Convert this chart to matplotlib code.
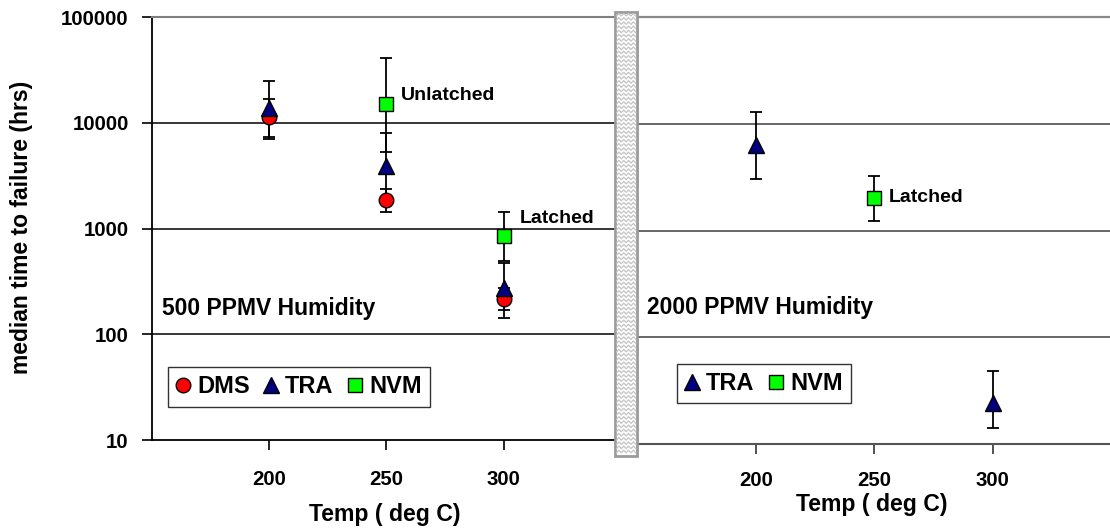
import numpy as np
import matplotlib
matplotlib.use("Agg")
import matplotlib.pyplot as plt
from matplotlib.patches import Rectangle

plt.rcParams['font.family'] = ['Liberation Sans', 'DejaVu Sans']
plt.rcParams['font.weight'] = 'bold'

# ---------------- data ----------------
x_ticks = [200, 250, 300]
y_ticks = [10, 100, 1000, 10000, 100000]
y_ticklabels = ['10', '100', '1000', '10000', '100000']

# 500 PPMV humidity
dms_x = [200, 250, 300]
dms_y = [11500, 1870, 216]
dms_lo = [7400, 1430, 170]
dms_hi = [17000, 2380, 274]

tra500_x = [200, 250, 300]
tra500_y = [13800, 3900, 275]
tra500_lo = [7060, 1900, 144]
tra500_hi = [25100, 8000, 471]

nvm500_x = [250, 300]
nvm500_y = [15100, 853]
nvm500_lo = [5350, 494]
nvm500_hi = [40900, 1450]

# 2000 PPMV humidity
tra2000_x = [200, 300]
tra2000_y = [6270, 24.5]
tra2000_lo = [3060, 14.1]
tra2000_hi = [12860, 49]

nvm2000_x = [250]
nvm2000_y = [2030]
nvm2000_lo = [1240]
nvm2000_hi = [3210]

W, H = 1110, 529
fig = plt.figure(figsize=(W / 100, H / 100), dpi=100)


def fx(px):
    return px / W


def fy(py):
    return 1 - py / H


# left axes
L0, L1, LT, LB = 151.7, 615.0, 17.3, 440.0
axL = fig.add_axes([fx(L0), fy(LB), fx(L1 - L0), (LB - LT) / H])
axL.set_xlim(150, 150 + (L1 - L0) / 2.346)
# right axes
R0, R1, RT, RB = 637.3, 1110.0, 16.7, 444.3
axR = fig.add_axes([fx(R0), fy(RB), fx(R1 - R0), (RB - RT) / H])
axR.set_xlim(150, 150 + (R1 - R0) / 2.37)

for ax in (axL, axR):
    ax.set_yscale('log')
    ax.set_ylim(10, 100000)
    ax.set_xticks(x_ticks)
    ax.set_xticklabels([str(t) for t in x_ticks], fontsize=14.7, fontweight='bold')
    ax.minorticks_off()
    ax.spines['right'].set_visible(False)
    ax.tick_params(axis='x', direction='out', length=7.5, width=1.2)

axL.set_yticks(y_ticks)
axL.set_yticklabels(y_ticklabels, fontsize=14.7, fontweight='bold')
axL.tick_params(axis='y', direction='out', length=7.5, width=1.2, pad=9)
axL.tick_params(axis='x', pad=14)
axL.spines['left'].set_color('black')
axL.spines['left'].set_linewidth(1.3)
axL.spines['bottom'].set_color('black')
axL.spines['bottom'].set_linewidth(1.3)
axL.spines['top'].set_color('#808080')
axL.spines['top'].set_linewidth(1.5)
for v in [100, 1000, 10000]:
    axL.axhline(v, color='black', lw=1.1, zorder=0)

axR.set_yticks([])
axR.spines['left'].set_visible(False)
axR.spines['top'].set_color('#8a8a8a')
axR.spines['top'].set_linewidth(1.6)
axR.spines['bottom'].set_color('#555555')
axR.spines['bottom'].set_linewidth(1.5)
axR.tick_params(axis='x', pad=12, color='#333333')
for v in [100, 1000, 10000]:
    axR.axhline(v, color='#666666', lw=1.4, zorder=0)

ms_c, ms_t, ms_s = 10.5, 11.5, 10
cap = 4.2
ekw = dict(ecolor='black', elinewidth=1.3, capsize=cap, capthick=1.3, linestyle='none')


def draw(ax, xs, ys, lo, hi, marker, color, ms, label):
    ys = np.array(ys, float)
    yerr = np.vstack([ys - np.array(lo, float), np.array(hi, float) - ys])
    ax.errorbar(xs, ys, yerr=yerr, fmt='none', zorder=2, **ekw)
    ax.plot(xs, ys, linestyle='none', marker=marker, markersize=ms,
            markerfacecolor=color, markeredgecolor='black', markeredgewidth=1.0,
            zorder=3, label=label)


draw(axL, dms_x, dms_y, dms_lo, dms_hi, 'o', '#ff0000', ms_c, 'DMS')
draw(axL, tra500_x, tra500_y, tra500_lo, tra500_hi, '^', '#000080', ms_t, 'TRA')
draw(axL, nvm500_x, nvm500_y, nvm500_lo, nvm500_hi, 's', '#00ff00', ms_s, 'NVM')

draw(axR, tra2000_x, tra2000_y, tra2000_lo, tra2000_hi, '^', '#000080', ms_t, 'TRA')
draw(axR, nvm2000_x, nvm2000_y, nvm2000_lo, nvm2000_hi, 's', '#00ff00', ms_s, 'NVM')

leg_kw = dict(ncol=3, frameon=True, fancybox=False, handlelength=0.6,
              handletextpad=0.3, columnspacing=0.6, borderpad=0.35,
              borderaxespad=0, prop={'size': 17, 'weight': 'bold'}, loc='lower left')
lg = axL.legend(bbox_to_anchor=(0.0345, 0.0788), **leg_kw)
lg.get_frame().set_edgecolor('black')
lg.get_frame().set_linewidth(1.0)
leg_kw['ncol'] = 2
lg2 = axR.legend(bbox_to_anchor=(0.0834, 0.0959), **leg_kw)
lg2.get_frame().set_edgecolor('black')
lg2.get_frame().set_linewidth(1.0)

# annotations
axL.text(0.538, 0.8146, 'Unlatched', transform=axL.transAxes, fontsize=14, fontweight='bold', va='center')
axL.text(0.7934, 0.5245, 'Latched', transform=axL.transAxes, fontsize=14, fontweight='bold', va='center')
axL.text(0.0216, 0.2957, '500 PPMV Humidity', transform=axL.transAxes, fontsize=16.5, fontweight='bold', va='baseline')
axR.text(0.531, 0.5767, 'Latched', transform=axR.transAxes, fontsize=14, fontweight='bold', va='center')
axR.text(0.0199, 0.304, '2000 PPMV Humidity', transform=axR.transAxes, fontsize=16.5, fontweight='bold', va='baseline')

# axis titles
fig.text(fx(22), fy(227), 'median time to failure (hrs)', rotation=90, fontsize=16.5,
         fontweight='bold', ha='center', va='center')
fig.text(fx(385), fy(514), 'Temp ( deg C)', fontsize=16.6, fontweight='bold', ha='center', va='center')
fig.text(fx(872), fy(505), 'Temp ( deg C)', fontsize=16.6, fontweight='bold', ha='center', va='center')

# hatched break bar
bx0, bx1, by0, by1 = 615.0, 637.3, 11.7, 455.7
axB = fig.add_axes([fx(bx0), fy(by1), fx(bx1 - bx0), (by1 - by0) / H])
axB.set_xlim(0, bx1 - bx0)
axB.set_ylim(by1 - by0, 0)
axB.axis('off')
axB.add_patch(Rectangle((0, 0), bx1 - bx0, by1 - by0, facecolor='white',
                        edgecolor='#9a9a9a', lw=2.0, clip_on=False))
zx = np.linspace(1.5, bx1 - bx0 - 1.5, 9)
for row in np.arange(3, by1 - by0 - 1, 4.2):
    zy = row + np.where(np.arange(len(zx)) % 2 == 0, 1.3, -1.3)
    axB.plot(zx, zy, color='#c4c4c4', lw=0.9)

fig.savefig('out.png', dpi=100)
